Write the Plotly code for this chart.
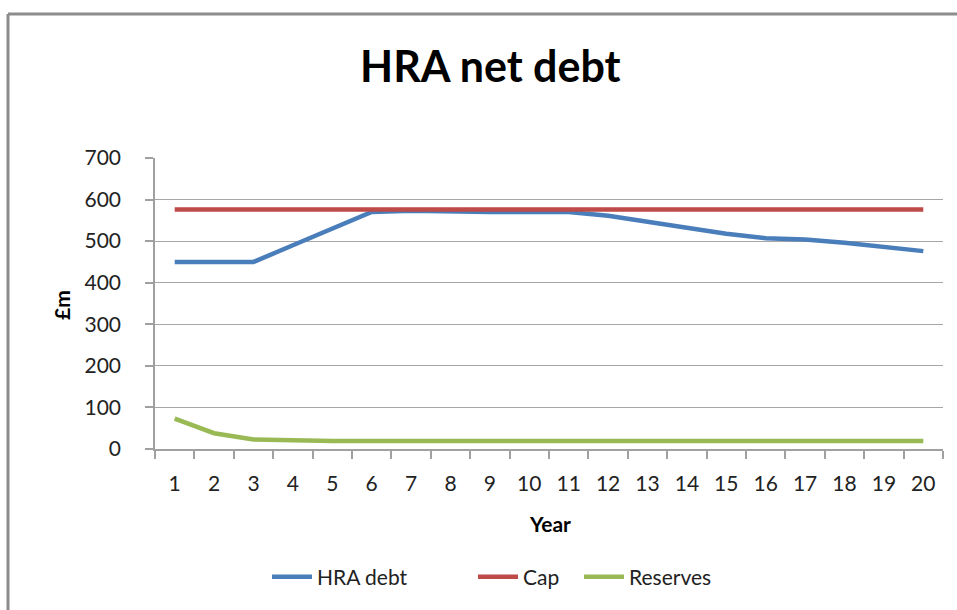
import plotly.graph_objects as go

years = [str(i) for i in range(1, 21)]
hra_debt = [450, 450, 450, 490, 530, 570, 573, 571, 570, 570, 570, 561, 546, 532, 518, 507, 504, 496, 485, 476]
cap = [576] * 20
reserves = [73, 38, 23, 20, 19, 19, 19, 19, 19, 19, 19, 19, 19, 19, 19, 19, 19, 19, 19, 19]
y_ticks = [0, 100, 200, 300, 400, 500, 600, 700]

FONT = "Lato"
fig = go.Figure()
fig.add_trace(go.Scatter(x=years, y=hra_debt, mode="lines", name="HRA debt", legend="legend",
                         line=dict(color="#4A7EBB", width=4.5)))
fig.add_trace(go.Scatter(x=years, y=cap, mode="lines", name="Cap", legend="legend2",
                         line=dict(color="#BE4B48", width=4.5)))
fig.add_trace(go.Scatter(x=years, y=reserves, mode="lines", name="Reserves", legend="legend3",
                         line=dict(color="#98B954", width=4.5)))

L, R, T, B = 155, 14, 158, 161
W, H = 957, 610
pw, ph = W - L - R, H - T - B

def px(x):
    return (x - L) / pw

def py(y):
    return (H - B - y) / ph

def leg(x):
    return dict(orientation="h", x=px(x), xanchor="left", y=py(577), yanchor="middle",
                font=dict(size=21, family=FONT, color="#222"), itemwidth=40,
                bgcolor="rgba(0,0,0,0)")

fig.update_layout(
    width=W, height=H,
    margin=dict(l=L, r=R, t=T, b=B, autoexpand=False),
    paper_bgcolor="white", plot_bgcolor="white",
    font=dict(family=FONT, size=21, color="#222"),
    showlegend=True,
    legend=leg(267), legend2=leg(473), legend3=leg(579),
    xaxis=dict(type="category", range=[-0.5, 19.5], tickson="boundaries", ticks="outside", ticklen=8,
               tickcolor="#a0a0a0", tickwidth=1.5, showline=True, linecolor="#a0a0a0",
               linewidth=1.5, showgrid=False, ticklabelstandoff=15, automargin=False,
               tickfont=dict(size=21, family=FONT, color="#222"), fixedrange=True),
    yaxis=dict(range=[0, 700], tickvals=y_ticks, ticks="outside", ticklen=8,
               tickcolor="#a0a0a0", tickwidth=1.5, showline=True, linecolor="#a0a0a0",
               linewidth=1.5, showgrid=True, gridcolor="#a6a6a6", gridwidth=1.2,
               zeroline=False, ticklabelstandoff=20, automargin=False,
               tickfont=dict(size=21, family=FONT, color="#222"), fixedrange=True),
    annotations=[
        dict(text="<b>HRA net debt</b>", x=px(490), y=py(65), xref="paper", yref="paper",
             showarrow=False, font=dict(size=43, family=FONT, color="#000"),
             xanchor="center", yanchor="middle"),
        dict(text="<b>Year</b>", x=px(550), y=py(523), xref="paper", yref="paper",
             showarrow=False, font=dict(size=21, family=FONT, color="#000"),
             xanchor="center", yanchor="middle"),
        dict(text="<b>£m</b>", x=px(61), y=py(305), xref="paper", yref="paper",
             showarrow=False, textangle=-90, font=dict(size=21, family=FONT, color="#000"),
             xanchor="center", yanchor="middle"),
    ],
    shapes=[
        dict(type="line", xref="paper", yref="paper", x0=px(8), x1=px(W + 20), y0=py(14), y1=py(14),
             line=dict(color="#8c8c8c", width=3)),
        dict(type="line", xref="paper", yref="paper", x0=px(8), x1=px(8), y0=py(14), y1=py(H + 20),
             line=dict(color="#8c8c8c", width=3)),
    ],
)

fig.write_html("out.html")
